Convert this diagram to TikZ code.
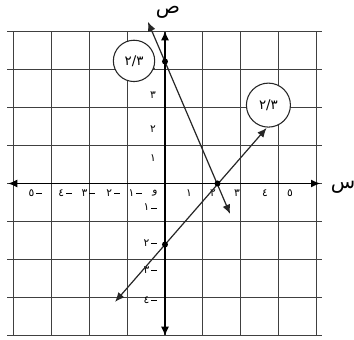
\documentclass[tikz,border=0pt]{standalone}
\usepackage{fontspec}
\newfontfamily\arabicfont[Script=Arabic]{DejaVu Sans}
\usetikzlibrary{arrows.meta}
\newcommand\neglab[1]{#1\kern1.5pt\rule[2pt]{4pt}{0.6pt}}
\begin{document}
\begin{tikzpicture}[x=19.6875pt,y=22.875pt,
  gridline/.style={draw=black!75,line width=0.8pt},
  axisline/.style={draw=black,line width=1.1pt,{Latex[length=7pt,width=6pt]}-{Latex[length=7pt,width=6pt]}},
  graphline/.style={draw=black!85,line width=0.9pt,{Latex[length=7pt,width=6pt]}-{Latex[length=7pt,width=6pt]}},
  tick/.style={font=\arabicfont\fontsize{8}{9}\selectfont,inner sep=0pt},
  slopebox/.style={circle,draw=black!85,line width=0.8pt,fill=white,minimum size=31pt,inner sep=0pt,font=\arabicfont\fontsize{10}{12}\selectfont},
  dot/.style={circle,fill=black,inner sep=0pt,minimum size=4.5pt},
  axlabel/.style={font=\arabicfont\fontsize{15}{16}\selectfont,inner sep=0pt}]
\useasboundingbox[fill=white] (-6.2857,-5.131) rectangle (7.2,6.016);
\draw[gridline] (-6,-5) grid (6,5);
% tick labels
\node[tick] at (-4.95,-0.30) {\neglab{٥}};
\node[tick] at (-3.81,-0.30) {\neglab{٤}};
\node[tick] at (-2.93,-0.30) {\neglab{٣}};
\node[tick] at (-1.98,-0.30) {\neglab{٢}};
\node[tick] at (-1.14,-0.30) {\neglab{١}};
\node[tick] at (-0.38,-0.30) {و};
\node[tick] at (0.91,-0.30) {١};
\node[tick] at (1.83,-0.30) {٢};
\node[tick] at (2.74,-0.30) {٣};
\node[tick] at (3.81,-0.30) {٤};
\node[tick] at (4.76,-0.30) {٥};
\node[tick] at (-0.46,3.85) {٤};
\node[tick] at (-0.46,2.90) {٣};
\node[tick] at (-0.46,1.79) {٢};
\node[tick] at (-0.46,0.84) {١};
\node[tick] at (-0.57,-0.79) {\neglab{١}};
\node[tick] at (-0.57,-1.95) {\neglab{٢}};
\node[tick] at (-0.57,-2.84) {\neglab{٣}};
\node[tick] at (-0.57,-3.82) {\neglab{٤}};
% axes
\coordinate (xl) at (-5.98,0);
\coordinate (xr) at (5.92,0);
\coordinate (yb) at (0,-5);
\coordinate (yt) at (0,5);
\draw[axisline] (xl) -- (xr);
\draw[axisline] (yb) -- (yt);
\node[axlabel] (sy) at (0.11,5.62) {ص};
\node[axlabel] (sx) at (6.78,-0.12) {س};
% lines
\coordinate (a1) at (-0.65,5.3);
\coordinate (a2) at (2.48,-1.0);
\coordinate (b1) at (-1.9,-3.88);
\coordinate (b2) at (3.87,1.82);
\draw[graphline] (a1) -- (a2);
\draw[graphline] (b1) -- (b2);
\node[dot] (p1) at (0,4) {};
\node[dot] (p2) at (2,0) {};
\node[dot] (p3) at (0,-2) {};
% slope circles
\node[slopebox] (c1) at (-1.18,4.02) {٢/٣};
\node[slopebox,minimum size=33pt] (c2) at (3.94,2.57) {٢/٣};
\end{tikzpicture}
\end{document}
